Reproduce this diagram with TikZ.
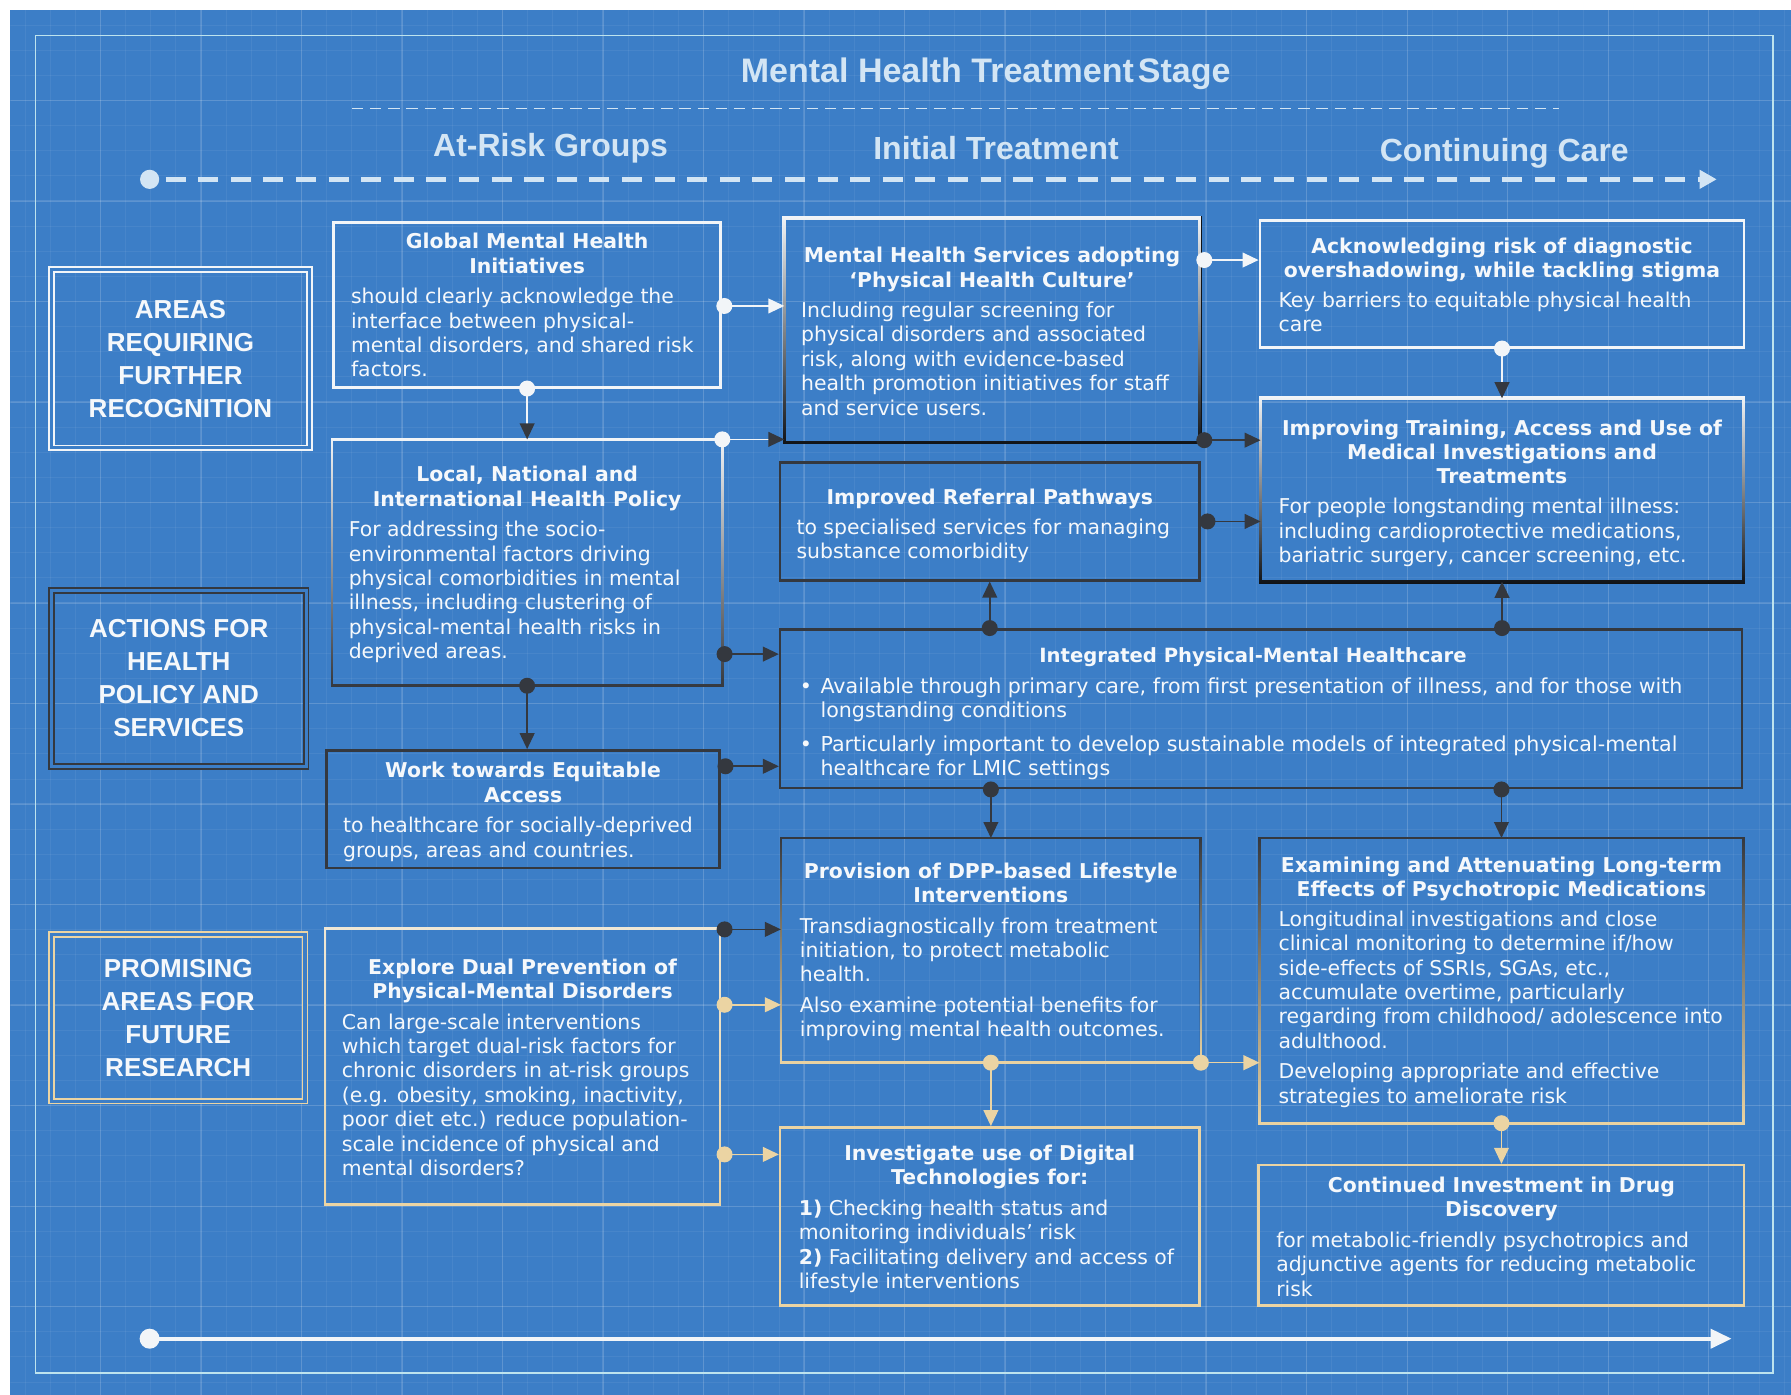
\documentclass[tikz,border=0pt]{standalone}
\usepackage{fontspec}
\setmainfont{DejaVu Sans}
\newfontfamily\hfont{Liberation Sans}
\usetikzlibrary{arrows.meta,fadings,fit,calc}
\definecolor{bgblue}{HTML}{3C7EC7}
\definecolor{wline}{HTML}{F2F5F8}
\definecolor{dline}{HTML}{34383F}
\definecolor{tline}{HTML}{EBD4A3}
\definecolor{headc}{HTML}{D3E5F4}
\definecolor{txt}{HTML}{F5F8FB}
\definecolor{framec}{HTML}{BDE3EE}
\definecolor{blk}{HTML}{101317}
\tikzfading[name=fadedown, top color=transparent!0, bottom color=transparent!100]
\tikzset{
  boxr/.style={inner sep=0pt},
  ttl/.style={anchor=north, inner sep=0pt, align=center, text=txt, font=\fontsize{10.2}{12.2}\selectfont\bfseries},
  bdy/.style={anchor=north west, inner sep=0pt, align=left, text=txt, font=\fontsize{10.2}{12.2}\selectfont},
  labt/.style={align=center, text=txt, inner sep=0pt, font=\hfont\fontsize{13}{16.5}\selectfont\bfseries},
  labbox/.style={inner sep=0pt, line width=0.8pt, double=bgblue, double distance=1.6pt},
  head/.style={text=headc, inner sep=0pt, font=\hfont\fontsize{16}{19}\selectfont\bfseries},
  gridmin/.style={white, opacity=0.06, line width=0.5pt},
  gridmaj/.style={white, opacity=0.13, line width=0.7pt},
  bw/.style={line width=1.3pt},
  bwk/.style={line width=1.8pt},
}
\newcommand\lnk[4]{%
  \draw[line width=0.8pt, #1, -{Triangle[length=8pt,width=7.4pt,color=#2]}] (#3) -- (#4);
  \fill[#1] (#3) circle[radius=4pt];
}
\begin{document}
\begin{tikzpicture}[x=0.5711pt,y=-0.5711pt]
\useasboundingbox (0,0) rectangle (1568,1221);
\fill[white] (0,0) rectangle (1568,1221);
\fill[bgblue] (9,9) rectangle (1568,1221);
\begin{scope}
\clip (9,9) rectangle (1568,1221);
\foreach \g in {0,22,...,1568} \draw[gridmin] (\g,9) -- (\g,1221);
\foreach \g in {0,22,...,1221} \draw[gridmin] (9,\g) -- (1568,\g);
\foreach \g in {0,88,...,1568} \draw[gridmaj] (\g,9) -- (\g,1221);
\foreach \g in {0,88,...,1221} \draw[gridmaj] (9,\g) -- (1568,\g);
\end{scope}
\draw[framec, line width=0.9pt] (31,31) rectangle (1552,1202);

% headings
\node[head, font=\hfont\fontsize{17}{20}\selectfont\bfseries] (title) at (863,65) {Mental Health Treatment\hspace{0.12em}Stage};
\coordinate (d1) at (308,95); \coordinate (d2) at (1365,95);
\draw[headc, line width=0.85pt, dash pattern=on 5.7pt off 3.4pt] (d1) -- (d2);
\node[head] (h1) at (482,130) {At-Risk Groups};
\node[head] (h2) at (872,130) {Initial Treatment};
\node[head] (h3) at (1317,134) {Continuing Care};
\coordinate (ts) at (131,157); \coordinate (te) at (1503,157);
\draw[headc, line width=2.5pt, dash pattern=on 10pt off 6.3pt, -{Triangle[length=8.6pt,width=9pt]}] ($(ts)+(14,0)$) -- (te);
\fill[headc] (ts) circle[radius=4.8pt];
\coordinate (bs) at (131,1172); \coordinate (be) at (1516,1172);
\draw[wline, line width=2pt, -{Triangle[length=10.5pt,width=9.5pt]}] (bs) -- (be);
\fill[wline] (bs) circle[radius=5pt];

% left labels
\node[fit={(45,236) (271,392)}, labbox, draw=wline] (lab1) {};
\node[labt] (lab1t) at (lab1.center) {AREAS\\REQUIRING\\FURTHER\\RECOGNITION};
\node[fit={(45,517) (268,671)}, labbox, draw=dline] (lab2) {};
\node[labt] (lab2t) at (lab2.center) {ACTIONS FOR\\HEALTH\\POLICY AND\\SERVICES};
\node[fit={(45,818) (267,964)}, labbox, draw=tline] (lab3) {};
\node[labt] (lab3t) at (lab3.center) {PROMISING\\AREAS FOR\\FUTURE\\RESEARCH};

% boxes
\node[fit={(292,195) (631,339)}, boxr, draw=wline, bw] (A) {};
\node[fit={(291,385) (632,600)}, boxr] (B) {};
\draw[dline, bw] (B.north west) rectangle (B.south east);
\draw[wline, bw, path fading=fadedown] (B.north west) rectangle (B.south east);
\node[fit={(286,657) (630,760)}, boxr, draw=dline, bw] (C) {};
\node[fit={(285,813) (630,1054)}, boxr] (D) {};
\draw[tline, bw] (D.north west) rectangle (D.south east);
\draw[wline, bw, path fading=fadedown, opacity=0.6] (D.north west) rectangle (D.south east);
\node[fit={(687,191) (1050,387)}, boxr] (E) {};
\draw[blk, bwk] (E.north west) rectangle (E.south east);
\draw[wline, bwk, path fading=fadedown] (E.north west) rectangle (E.south east);
\node[fit={(683,405) (1050,508)}, boxr, draw=dline, bw] (F) {};
\node[fit={(683,551) (1525,690)}, boxr, draw=dline, bw] (G) {};
\node[fit={(684,734) (1051,930)}, boxr] (H) {};
\draw[tline, bw] (H.north west) rectangle (H.south east);
\draw[dline, bw, path fading=fadedown] (H.north west) rectangle (H.south east);
\node[fit={(683,987) (1050,1143)}, boxr, draw=tline, bw] (I) {};
\node[fit={(1103,193) (1527,304)}, boxr, draw=wline, bw] (J) {};
\node[fit={(1104,349) (1526,509)}, boxr] (K) {};
\draw[blk, bwk] (K.north west) rectangle (K.south east);
\draw[wline, bwk, path fading=fadedown] (K.north west) rectangle (K.south east);
\node[fit={(1103,734) (1526,983)}, boxr] (L) {};
\draw[tline, bw] (L.north west) rectangle (L.south east);
\draw[dline, bw, path fading=fadedown] (L.north west) rectangle (L.south east);
\node[fit={(1102,1020) (1527,1143)}, boxr, draw=tline, bw] (M) {};

% connectors
\coordinate (c1) at ($(A.north east)+(2,74)$);
\lnk{wline}{wline}{c1}{c1 -| E.west}
\lnk{wline}{dline}{A.south}{B.north}
\lnk{wline}{dline}{B.north east}{B.north east -| E.west}
\coordinate (c4) at ($(E.north east)+(4,37)$);
\lnk{wline}{wline}{c4}{c4 -| J.west}
\lnk{wline}{dline}{J.south}{J.south |- K.north}
\coordinate (c6) at ($(E.south east)+(4,-2)$);
\lnk{dline}{dline}{c6}{c6 -| K.west}
\coordinate (c7) at ($(F.east)+(6,0)$);
\lnk{dline}{dline}{c7}{c7 -| K.west}
\coordinate (c8) at ($(B.north east)+(2,188)$);
\lnk{dline}{dline}{c8}{c8 -| G.west}
\coordinate (c9) at ($(C.north east)+(4,15)$);
\lnk{dline}{dline}{c9}{c9 -| G.west}
\coordinate (c10) at (F.south |- G.north);
\lnk{dline}{dline}{c10}{F.south}
\coordinate (c11) at (K.south |- G.north);
\lnk{dline}{dline}{c11}{K.south}
\lnk{dline}{dline}{B.south}{B.south |- C.north}
\coordinate (c13) at (H.north |- G.south);
\lnk{dline}{dline}{c13}{H.north}
\coordinate (c14) at (L.north |- G.south);
\lnk{dline}{dline}{c14}{L.north}
\coordinate (c15) at ($(D.north east)+(4,1)$);
\lnk{dline}{dline}{c15}{c15 -| H.west}
\coordinate (c16) at ($(D.north east)+(4,67)$);
\lnk{tline}{tline}{c16}{c16 -| H.west}
\coordinate (c17) at ($(D.north east)+(4,198)$);
\lnk{tline}{tline}{c17}{c17 -| I.west}
\lnk{tline}{tline}{H.south}{H.south |- I.north}
\coordinate (c19) at (H.south east);
\lnk{tline}{tline}{c19}{c19 -| L.west}
\lnk{tline}{tline}{L.south}{L.south |- M.north}

% texts
\node[ttl] (At) at (461.5,204) {Global Mental Health\\Initiatives};
\node[bdy] (Ab) at (307,252) {should clearly acknowledge the\\interface between physical-\\mental disorders, and shared risk\\factors.};
\node[ttl] (Et) at (868.5,216) {Mental Health Services adopting\\‘Physical Health Culture’};
\node[bdy] (Eb) at (701,264) {Including regular screening for\\physical disorders and associated\\risk, along with evidence-based\\health promotion initiatives for staff\\and service users.};
\node[ttl] (Jt) at (1315,208) {Acknowledging risk of diagnostic\\overshadowing, while tackling stigma};
\node[bdy] (Jb) at (1119,255) {Key barriers to equitable physical health\\care};
\node[ttl] (Bt) at (461.5,408) {Local, National and\\International Health Policy};
\node[bdy] (Bb) at (305,456) {For addressing the socio-\\environmental factors driving\\physical comorbidities in mental\\illness, including clustering of\\physical-mental health risks in\\deprived areas.};
\node[ttl] (Ft) at (866.5,428) {Improved Referral Pathways};
\node[bdy] (Fb) at (697,454) {to specialised services for managing\\substance comorbidity};
\node[ttl] (Kt) at (1315,367) {Improving Training, Access and Use of\\Medical Investigations and\\Treatments};
\node[bdy] (Kb) at (1119,436) {For people longstanding mental illness:\\including cardioprotective medications,\\bariatric surgery, cancer screening, etc.};
\node[ttl, font=\fontsize{9.8}{12}\selectfont\bfseries] (Gt) at (1097,567) {Integrated Physical-Mental Healthcare};
\node[bdy, font=\fontsize{10.3}{12.2}\selectfont] (Gb) at (700,593) {\makebox[10.3pt][l]{•}Available through primary care, from first presentation of illness, and for those with\\\hspace*{10.3pt}longstanding conditions\\[4.4pt]\makebox[10.3pt][l]{•}Particularly important to develop sustainable models of integrated physical-mental\\\hspace*{10.3pt}healthcare for LMIC settings};
\node[ttl] (Ct) at (458,667) {Work towards Equitable\\Access};
\node[bdy] (Cb) at (300,715) {to healthcare for socially-deprived\\groups, areas and countries.};
\node[ttl] (Dt) at (457.5,839) {Explore Dual Prevention of\\Physical-Mental Disorders};
\node[bdy] (Db) at (299,887) {Can large-scale interventions\\which target dual-risk factors for\\chronic disorders in at-risk groups\\(e.g. obesity, smoking, inactivity,\\poor diet etc.) reduce population-\\scale incidence of physical and\\mental disorders?};
\node[ttl] (Ht) at (867.5,755) {Provision of DPP-based Lifestyle\\Interventions};
\node[bdy] (Hb) at (700,803) {Transdiagnostically from treatment\\initiation, to protect metabolic\\health.\\[3.1pt]Also examine potential benefits for\\improving mental health outcomes.};
\node[ttl] (It) at (866.5,1002) {Investigate use of Digital\\Technologies for:};
\node[bdy] (Ib) at (699,1050) {\textbf{1)} Checking health status and\\monitoring individuals’ risk\\\textbf{2)} Facilitating delivery and access of\\lifestyle interventions};
\node[ttl] (Lt) at (1314.5,750) {Examining and Attenuating Long-term\\Effects of Psychotropic Medications};
\node[bdy] (Lb) at (1119,797) {Longitudinal investigations and close\\clinical monitoring to determine if/how\\side-effects of SSRIs, SGAs, etc.,\\accumulate overtime, particularly\\regarding from childhood/ adolescence into\\adulthood.\\[3.1pt]Developing appropriate and effective\\strategies to ameliorate risk};
\node[ttl] (Mt) at (1314.5,1030) {Continued Investment in Drug\\Discovery};
\node[bdy] (Mb) at (1117,1078) {for metabolic-friendly psychotropics and\\adjunctive agents for reducing metabolic\\risk};
\end{tikzpicture}
\end{document}
